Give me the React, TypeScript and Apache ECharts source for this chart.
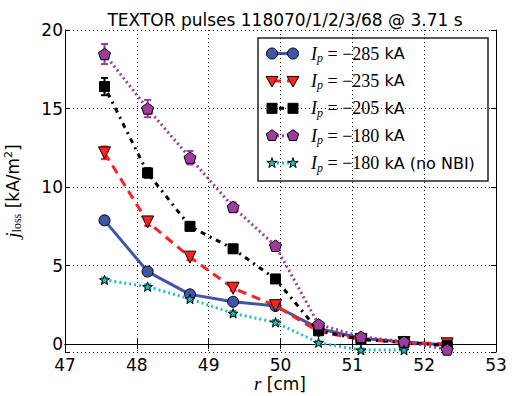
import React, { useEffect, useRef } from "react";
import * as echarts from "echarts";

const radii = [47.55, 48.15, 48.74, 49.34, 49.93, 50.53, 51.12, 51.72, 52.32];
const j285 = [7.88, 4.62, 3.17, 2.7, 2.43, 1.0, 0.38, 0.13, -0.05];
const j235 = [12.18, 7.78, 5.54, 3.56, 2.45, 0.8, 0.3, 0.1, 0.02];
const j205 = [16.4, 10.9, 7.5, 6.07, 4.15, 0.85, 0.3, 0.12, -0.1];
const j180 = [18.47, 15.0, 11.87, 8.73, 6.26, 1.26, 0.47, 0.15, -0.34];
const j180noNbi = [4.09, 3.66, 2.88, 1.96, 1.39, 0.09, -0.38, -0.38];
const e285 = [0.15, 0.15, 0.15, 0.15, 0.15, 0.1, 0.1, 0.1, 0.1];
const e235 = [0.4, 0.25, 0.2, 0.15, 0.15, 0.1, 0.1, 0.1, 0.1];
const e205 = [0.55, 0.3, 0.25, 0.2, 0.2, 0.1, 0.1, 0.1, 0.1];
const e180 = [0.64, 0.55, 0.43, 0.3, 0.2, 0.1, 0.1, 0.1, 0.1];
const e180noNbi = [0.15, 0.15, 0.15, 0.15, 0.15, 0.1, 0.1, 0.1];
const currents = ["−285", "−235", "−205", "−180", "−180"];
const suffixes = ["", "", "", "", " (no NBI)"];

const PENT = "path://M0,-1 L0.951,-0.309 L0.588,0.809 L-0.588,0.809 L-0.951,-0.309 Z";
const STAR =
  "path://M0,-1 L0.2234,-0.3074 L0.951,-0.309 L0.3614,0.1174 L0.588,0.809 L0,0.38 L-0.588,0.809 L-0.3614,0.1174 L-0.951,-0.309 L-0.2234,-0.3074 Z";

const SERIES = [
  { vals: j285, err: e285, color: "#3f55a6", line: "solid" as any, symbol: "circle", size: 11, rot: 0 },
  { vals: j235, err: e235, color: "#ff2020", line: [9, 6], symbol: "triangle", size: 12, rot: 180 },
  { vals: j205, err: e205, color: "#000000", line: [2, 5, 5, 5], symbol: "rect", size: 10, rot: 0 },
  { vals: j180, err: e180, color: "#9e3c9e", line: [2, 3], symbol: PENT, size: 12, rot: 0 },
  { vals: j180noNbi, err: e180noNbi, color: "#22bcbc", line: [2, 3], symbol: STAR, size: 10, rot: 0 },
];

function legendMarker(kind: number, cx: number, cy: number, color: string) {
  const st = { fill: color, stroke: "#000", lineWidth: 1 };
  if (kind === 0) return { type: "circle", shape: { cx, cy, r: 5.5 }, style: st };
  if (kind === 1)
    return { type: "polygon", shape: { points: [[cx - 6, cy - 4.5], [cx + 6, cy - 4.5], [cx, cy + 6]] }, style: st };
  if (kind === 2) return { type: "rect", shape: { x: cx - 5, y: cy - 5, width: 10, height: 10 }, style: st };
  const pts: number[][] = [];
  if (kind === 3) {
    for (let k = 0; k < 5; k++) {
      const a = -Math.PI / 2 + (k * 2 * Math.PI) / 5;
      pts.push([cx + 6 * Math.cos(a), cy + 6 * Math.sin(a)]);
    }
  } else {
    for (let k = 0; k < 10; k++) {
      const a = -Math.PI / 2 + (k * Math.PI) / 5;
      const r = k % 2 === 0 ? 5.5 : 2.1;
      pts.push([cx + r * Math.cos(a), cy + r * Math.sin(a)]);
    }
  }
  return { type: "polygon", shape: { points: pts }, style: st };
}

export default function App() {
  const ref = useRef<HTMLDivElement>(null);
  useEffect(() => {
    if (!ref.current) return;
    document.body.style.margin = "0";
    const chart = echarts.init(ref.current, null, { renderer: "svg" });

    const series: any[] = [];
    SERIES.forEach((s, i) => {
      series.push({
        type: "custom",
        name: "err" + i,
        z: 1,
        data: s.vals.map((v, k) => [radii[k], v - s.err[k], v + s.err[k]]),
        renderItem: (_p: any, api: any) => {
          const x = api.value(0);
          const a = api.coord([x, api.value(1)]);
          const b = api.coord([x, api.value(2)]);
          const st = { stroke: s.color, lineWidth: 2 };
          return {
            type: "group",
            children: [
              { type: "line", shape: { x1: a[0], y1: a[1], x2: b[0], y2: b[1] }, style: st },
              { type: "line", shape: { x1: a[0] - 3.5, y1: a[1], x2: a[0] + 3.5, y2: a[1] }, style: st },
              { type: "line", shape: { x1: b[0] - 3.5, y1: b[1], x2: b[0] + 3.5, y2: b[1] }, style: st },
            ],
          };
        },
      });
      series.push({
        type: "line",
        name: "s" + i,
        z: 2 + i,
        data: s.vals.map((v, k) => [radii[k], v]),
        symbol: s.symbol,
        symbolSize: s.size,
        symbolRotate: s.rot,
        symbolKeepAspect: true,
        showSymbol: true,
        lineStyle: { color: s.color, width: 3, type: s.line },
        itemStyle: { color: s.color, borderColor: "#000", borderWidth: 1 },
      });
    });

    const legendChildren: any[] = [
      {
        type: "rect",
        shape: { x: 258, y: 38, width: 230, height: 143 },
        style: { fill: "#fff", stroke: "#222", lineWidth: 1.5 },
      },
    ];
    SERIES.forEach((s, i) => {
      const y = 53.5 + i * 27.4;
      legendChildren.push({
        type: "line",
        shape: { x1: 272, y1: y, x2: 293, y2: y },
        style: { stroke: s.color, lineWidth: 3, lineDash: s.line === "solid" ? null : s.line },
      });
      legendChildren.push(legendMarker(i, 272, y, s.color));
      legendChildren.push(legendMarker(i, 293, y, s.color));
      legendChildren.push({
        type: "text",
        x: 311,
        y: y,
        style: {
          text: `{i|I}{s|p}{m| = ${currents[i]}} kA${suffixes[i]}`,
          verticalAlign: "middle",
          fontFamily: "DejaVu Sans",
          fontSize: 16,
          fill: "#000",
          rich: {
            i: { fontFamily: "Liberation Serif", fontStyle: "italic", fontSize: 18, fill: "#000" },
            s: { fontFamily: "Liberation Serif", fontStyle: "italic", fontSize: 12, padding: [9, 0, 0, 0], fill: "#000" },
            m: { fontFamily: "Liberation Serif", fontSize: 18, fill: "#000" },
          },
        },
      });
    });

    const axisCommon = {
      axisLine: { show: true, lineStyle: { color: "#000", width: 1 } },
      axisTick: { show: true, inside: true, length: 5, lineStyle: { color: "#000" } },
    };

    chart.setOption({
      animation: false,
      title: {
        text: "TEXTOR pulses 118070/1/2/3/68 @ 3.71 s",
        left: 280,
        textAlign: "center",
        top: 6,
        textStyle: { fontFamily: "DejaVu Sans", fontSize: 17, fontWeight: "normal", color: "#000" },
      },
      grid: { left: 65, right: 19, top: 30, bottom: 44, show: false, containLabel: false, outerBoundsMode: "none" },
      xAxis: [
        {
          type: "value",
          min: 47,
          max: 53,
          interval: 1,
          position: "bottom",
          ...axisCommon,
          axisLabel: {
            color: "#000",
            fontFamily: "DejaVu Sans",
            fontSize: 17,
            margin: 4,
          },
          splitLine: { show: true, lineStyle: { color: "#000", width: 1, type: [1, 3] } },
        },
        {
          type: "value",
          min: 47,
          max: 53,
          interval: 1,
          position: "top",
          ...axisCommon,
          axisLabel: { show: false },
          splitLine: { show: false },
        },
      ],
      yAxis: [
        {
          type: "value",
          min: -0.5,
          max: 20,
          splitNumber: 4,
          position: "left",
          ...axisCommon,
          axisLabel: {
            color: "#000",
            fontFamily: "DejaVu Sans",
            fontSize: 17,
            margin: 2,
            formatter: (v: number) => (Math.abs(v % 5) < 1e-9 ? String(v) : ""),
          },
          splitLine: { show: true, lineStyle: { color: "#000", width: 1, type: [1, 3] } },
          name: "{j|j}{l|loss} [kA/m{sup|2}]",
          nameLocation: "middle",
          nameGap: 42,
          nameTextStyle: {
            fontFamily: "DejaVu Sans",
            fontSize: 17,
            color: "#000",
            rich: {
              j: { fontFamily: "Liberation Serif", fontStyle: "italic", fontSize: 19 },
              l: { fontFamily: "Liberation Serif", fontSize: 12, padding: [9, 0, 0, 0] },
              sup: { fontFamily: "DejaVu Sans", fontSize: 11, padding: [0, 0, 9, 0] },
            },
          },
        },
        {
          type: "value",
          min: -0.5,
          max: 20,
          splitNumber: 4,
          position: "right",
          ...axisCommon,
          axisLabel: { show: false },
          splitLine: { show: false },
        },
      ],
      series,
      graphic: [
        { type: "group", z: 100, children: legendChildren },
        {
          type: "text",
          x: 280,
          y: 374,
          style: {
            text: "{r|r} [cm]",
            align: "center",
            verticalAlign: "top",
            fontFamily: "DejaVu Sans",
            fontSize: 17,
            lineHeight: 19,
            fill: "#000",
            rich: { r: { fontFamily: "Liberation Serif", fontStyle: "italic", fontSize: 19, lineHeight: 19, fill: "#000" } },
          },
        },
      ],
    });
    return () => chart.dispose();
  }, []);
  return <div ref={ref} style={{ width: 515, height: 396 }} />;
}
